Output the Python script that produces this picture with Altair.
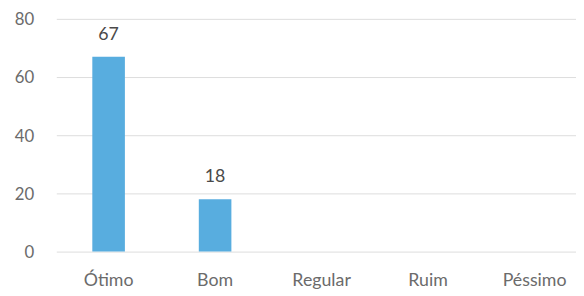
import altair as alt
import pandas as pd

categories = ["Ótimo", "Bom", "Regular", "Ruim", "Péssimo"]
values = [67, 18, 0, 0, 0]
labels = ["67", "18", "", "", ""]

df = pd.DataFrame({"cat": categories, "val": values, "lab": labels})

font = "Lato"
axis_color = "#6b6b6b"

x = alt.X("cat:N", sort=categories, title=None,
          scale=alt.Scale(range=[0, 538], paddingInner=0.694, paddingOuter=0.338),
          axis=alt.Axis(labelAngle=0, labelFontSize=18, labelColor=axis_color,
                        labelFont=font, ticks=False, domain=False, labelPadding=20))
y = alt.Y("val:Q", title=None,
          scale=alt.Scale(domain=[0, 80]),
          axis=alt.Axis(values=[0, 20, 40, 60, 80], labelFontSize=17, labelColor=axis_color,
                        labelFont=font, ticks=False, domain=False, labelPadding=23,
                        labelOffset=1, gridColor="#dcdcdc", gridWidth=1))

bars = alt.Chart(df).mark_bar(color="#58ADDF").encode(x=x, y=y)
text = alt.Chart(df).mark_text(baseline="alphabetic", dy=-17, fontSize=18, font=font,
                               color="#4a4a4a").encode(
    x=alt.X("cat:N", sort=categories), y="val:Q", text="lab:N")

chart = (bars + text).properties(
    width=527, height=236,
    autosize=alt.AutoSizeParams(type="none"),
    padding={"left": 49, "top": 9, "right": 0, "bottom": 43},
).configure(background="white").configure_view(strokeWidth=0, stroke="transparent")

chart.save("out.html", embed_options={"renderer": "svg", "actions": False})
